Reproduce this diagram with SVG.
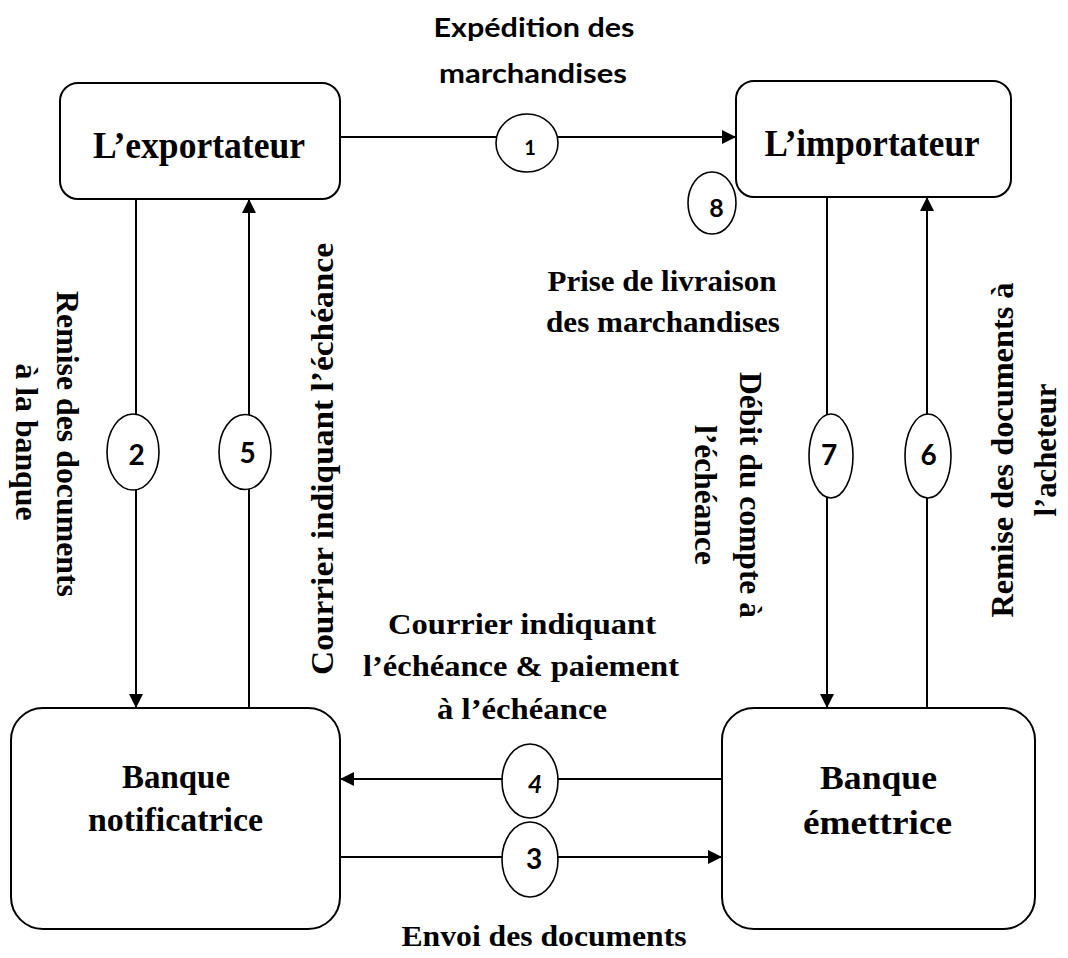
<svg xmlns="http://www.w3.org/2000/svg" width="1068" height="958" viewBox="0 0 1068 958">
  <style>
    .box { fill: #ffffff; stroke: #000000; stroke-width: 2; }
    .flow { fill: none; stroke: #000000; stroke-width: 2; }
    .step { fill: #ffffff; stroke: #000000; stroke-width: 1.6; }
    .serif { font-family: "Liberation Serif", "Times New Roman", serif; font-weight: bold; fill: #000000; }
    .sans { font-family: Lato, "Liberation Sans", Arial, sans-serif; font-weight: bold; fill: #000000; }
    .mid { text-anchor: middle; }
    .node { font-size: 38px; }
    .bank { font-size: 33px; }
    .lbl { font-size: 30px; }
    .vlbl { font-size: 32px; }
    .num { font-size: 28px; }
  </style>
  <defs>
    <marker id="arrow" viewBox="0 0 14 14" refX="14" refY="7" markerWidth="14" markerHeight="14" markerUnits="userSpaceOnUse" orient="auto">
      <path d="M0,0 L14,7 L0,14 Z" fill="#000000"/>
    </marker>
  </defs>

  <!-- flows between the parties -->
  <g id="connectors">
    <line class="flow" x1="340" y1="137" x2="736" y2="137" marker-end="url(#arrow)"/>
    <line class="flow" x1="136" y1="199" x2="136" y2="708" marker-end="url(#arrow)"/>
    <line class="flow" x1="249" y1="708" x2="249" y2="199" marker-end="url(#arrow)"/>
    <line class="flow" x1="827" y1="197" x2="827" y2="708" marker-end="url(#arrow)"/>
    <line class="flow" x1="927" y1="708" x2="927" y2="197" marker-end="url(#arrow)"/>
    <line class="flow" x1="722" y1="779" x2="340" y2="779" marker-end="url(#arrow)"/>
    <line class="flow" x1="340" y1="857" x2="722" y2="857" marker-end="url(#arrow)"/>
  </g>

  <!-- parties -->
  <g id="exportateur">
    <rect class="box" x="60" y="83" width="280" height="116" rx="18" ry="18"/>
    <text class="serif node mid" x="199" y="158" textLength="212" lengthAdjust="spacingAndGlyphs">L’exportateur</text>
  </g>
  <g id="importateur">
    <rect class="box" x="736" y="81" width="275" height="116" rx="18" ry="18"/>
    <text class="serif node mid" x="872" y="156" textLength="215" lengthAdjust="spacingAndGlyphs">L’importateur</text>
  </g>
  <g id="banque-notificatrice">
    <rect class="box" x="11" y="708" width="329" height="221" rx="32" ry="32"/>
    <text class="serif bank mid" x="176" y="788" textLength="108" lengthAdjust="spacingAndGlyphs">Banque</text>
    <text class="serif bank mid" x="175.5" y="831" textLength="175" lengthAdjust="spacingAndGlyphs">notificatrice</text>
  </g>
  <g id="banque-emettrice">
    <rect class="box" x="722" y="708" width="313" height="221" rx="32" ry="32"/>
    <text class="serif bank mid" x="878.5" y="789" textLength="117" lengthAdjust="spacingAndGlyphs">Banque</text>
    <text class="serif bank mid" x="877.5" y="834" textLength="149" lengthAdjust="spacingAndGlyphs">émettrice</text>
  </g>

  <!-- numbered steps -->
  <g id="step-1">
    <ellipse class="step" cx="527" cy="143" rx="31" ry="29"/>
    <text class="sans mid" x="530" y="155" font-size="20">1</text>
  </g>
  <g id="step-2">
    <ellipse class="step" cx="133" cy="452" rx="26" ry="38"/>
    <text class="sans num mid" x="136.5" y="465">2</text>
  </g>
  <g id="step-3">
    <ellipse class="step" cx="530" cy="859.5" rx="28" ry="37.5"/>
    <text class="sans num mid" x="534" y="869">3</text>
  </g>
  <g id="step-4">
    <ellipse class="step" cx="530" cy="781" rx="28" ry="37"/>
    <text class="sans mid" x="535" y="793" font-size="25" font-style="italic">4</text>
  </g>
  <g id="step-5">
    <ellipse class="step" cx="245" cy="452" rx="26" ry="37.5"/>
    <text class="sans num mid" x="247.5" y="463">5</text>
  </g>
  <g id="step-6">
    <ellipse class="step" cx="928" cy="456" rx="23" ry="42"/>
    <text class="sans num mid" x="928.5" y="465">6</text>
  </g>
  <g id="step-7">
    <ellipse class="step" cx="831" cy="456" rx="22" ry="42"/>
    <text class="sans num mid" x="829" y="465">7</text>
  </g>
  <g id="step-8">
    <ellipse class="step" cx="712" cy="203" rx="24" ry="31"/>
    <text class="sans mid" x="716.5" y="217" font-size="25">8</text>
  </g>

  <!-- flow captions -->
  <g id="label-expedition">
    <text class="sans mid" x="534" y="37" font-size="26" textLength="201" lengthAdjust="spacingAndGlyphs">Expédition des</text>
    <text class="sans mid" x="533" y="83" font-size="26" textLength="188" lengthAdjust="spacingAndGlyphs">marchandises</text>
  </g>
  <g id="label-livraison">
    <text class="serif lbl mid" x="662" y="291" textLength="229" lengthAdjust="spacingAndGlyphs">Prise de livraison</text>
    <text class="serif lbl mid" x="663" y="332" textLength="234" lengthAdjust="spacingAndGlyphs">des marchandises</text>
  </g>
  <g id="label-courrier-paiement">
    <text class="serif lbl mid" x="522" y="634" textLength="268" lengthAdjust="spacingAndGlyphs">Courrier indiquant</text>
    <text class="serif lbl mid" x="521" y="676" textLength="316" lengthAdjust="spacingAndGlyphs">l’échéance &amp; paiement</text>
    <text class="serif lbl mid" x="522" y="719" textLength="170" lengthAdjust="spacingAndGlyphs">à l’échéance</text>
  </g>
  <g id="label-envoi">
    <text class="serif lbl mid" x="544" y="946" textLength="285" lengthAdjust="spacingAndGlyphs">Envoi des documents</text>
  </g>
  <g id="label-remise-banque">
    <text class="serif vlbl mid" transform="translate(57,444) rotate(90)" textLength="306" lengthAdjust="spacingAndGlyphs">Remise des documents</text>
    <text class="serif vlbl mid" transform="translate(16,442) rotate(90)" textLength="157" lengthAdjust="spacingAndGlyphs">à la banque</text>
  </g>
  <g id="label-courrier-echeance">
    <text class="serif vlbl mid" transform="translate(333,459) rotate(-90)" textLength="432" lengthAdjust="spacingAndGlyphs">Courrier indiquant l’échéance</text>
  </g>
  <g id="label-debit">
    <text class="serif vlbl mid" transform="translate(740,495) rotate(90)" textLength="246" lengthAdjust="spacingAndGlyphs">Débit du compte à</text>
    <text class="serif vlbl mid" transform="translate(695,495) rotate(90)" textLength="140" lengthAdjust="spacingAndGlyphs">l’échéance</text>
  </g>
  <g id="label-remise-acheteur">
    <text class="serif vlbl mid" transform="translate(1013,450) rotate(-90)" textLength="335" lengthAdjust="spacingAndGlyphs">Remise des documents à</text>
    <text class="serif vlbl mid" transform="translate(1056,450) rotate(-90)" textLength="133" lengthAdjust="spacingAndGlyphs">l’acheteur</text>
  </g>
</svg>
